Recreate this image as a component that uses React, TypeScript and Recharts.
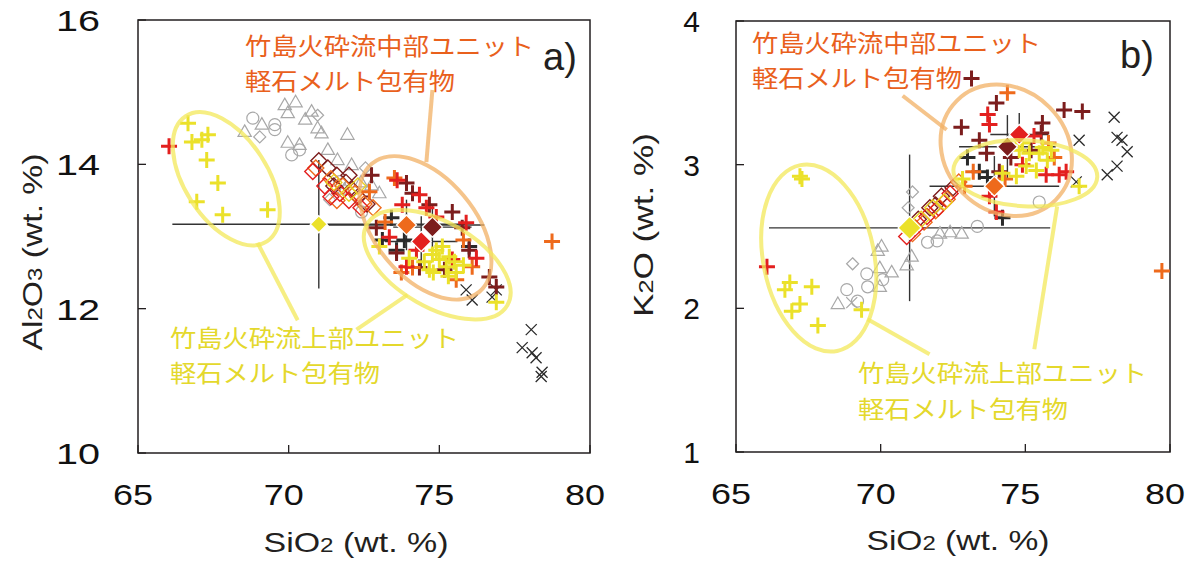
import React from 'react';
import { ScatterChart, Scatter, XAxis, YAxis, ErrorBar, ReferenceArea, ReferenceLine } from 'recharts';

type P = [number, number];

// ---------- colours ----------
const C_YELLOW = '#ebe12a';
const C_RED = '#e3201f';
const C_ORANGE = '#ee6a1c';
const C_DARKRED = '#7c1d1d';
const C_BLACK = '#2a2a2a';
const C_GRAY = '#a8a8a8';
const C_RING_YELLOW = '#f3e85a';
const C_RING_ORANGE = '#f2b064';
const C_TEXT_ORANGE = '#e9601c';
const C_TEXT_YELLOW = '#e4d82c';

// ---------- axis ticks ----------
const siO2Ticks = [65, 70, 75, 80];
const al2O3Ticks = [10, 12, 14, 16];
const k2OTicks = [1, 2, 3, 4];

// ---------- panel a: SiO2 vs Al2O3 ----------
const aGrayTriangles: P[] = [
  [68.54, 14.45], [69.87, 14.82], [69.97, 14.71], [70.76, 14.73], [71.09, 14.43], [69.97, 14.3],
  [70.36, 14.27], [71.95, 14.41], [71.62, 14.06], [72.09, 13.99], [72.75, 13.71], [73.01, 13.6],
  [71.85, 13.65], [70.23, 14.86], [70.96, 14.5], [69.11, 14.55], [70.55, 14.62], [71.3, 14.2], [72.4, 13.75],
];
const aGrayCircles: P[] = [
  [68.81, 14.64], [69.54, 14.55], [69.54, 14.48], [70.1, 14.13], [70.36, 14.2], [71.69, 13.76], [72.42, 13.34],
];
const aGrayDiamonds: P[] = [[69.04, 14.38], [70.96, 14.68], [72.55, 13.95], [71.36, 13.51]];
const aBlackX: P[] = [
  [78.05, 11.71], [77.75, 11.46], [78.08, 11.39], [78.21, 11.32], [78.41, 11.12], [78.38, 11.06],
  [75.89, 12.26], [76.09, 12.12], [76.89, 12.26], [76.75, 12.16],
];
const aGlassDarkRed: P[] = [
  [71.0, 14.05], [71.3, 13.95], [71.6, 13.85], [71.9, 13.75], [72.1, 13.65], [72.3, 13.55], [71.5, 13.7], [72.0, 13.85], [72.6, 13.45],
];
const aGlassRed: P[] = [[70.8, 13.9], [71.2, 13.7], [71.7, 13.6], [72.0, 13.5], [72.4, 13.4], [71.4, 13.55]];
const aGlassOrange: P[] = [[70.9, 13.95], [71.4, 13.8], [71.8, 13.7], [72.2, 13.6], [72.5, 13.45], [71.6, 13.5], [72.8, 13.4]];
const aGlassYellow: P[] = [[71.5, 13.75], [72.0, 13.6], [72.3, 13.7]];
const aMiUpper: P[] = [
  [66.66, 14.57], [66.79, 14.31], [67.12, 14.34], [67.32, 14.41], [67.28, 14.06], [67.65, 13.74], [66.95, 13.48],
  [67.81, 13.3], [69.3, 13.37],
  [73.01, 12.86], [74.77, 12.75], [75.0, 12.68], [75.33, 12.72], [74.67, 12.54], [75.23, 12.58], [75.56, 12.5],
  [74.9, 12.81], [75.1, 12.86], [76.89, 12.09], [75.5, 12.65], [74.5, 12.65], [74.0, 12.7], [75.8, 12.6], [75.3, 12.45], [74.8, 12.5],
];
const aMiRed: P[] = [
  [73.77, 13.44], [74.57, 13.4], [75.89, 13.19], [76.23, 12.7], [73.91, 12.58], [74.24, 12.81], [75.43, 12.68],
  [74.9, 13.27], [73.34, 12.99], [66.03, 14.25], [73.6, 13.78], [74.34, 13.58],
];
const aMiOrange: P[] = [
  [73.51, 13.81], [72.68, 13.62], [73.74, 12.5], [74.11, 12.57], [75.56, 12.4], [76.09, 12.58], [78.74, 12.93], [73.2, 13.2], [75.8, 12.95],
];
const aMiDarkRed: P[] = [
  [73.91, 13.74], [74.11, 13.6], [74.67, 13.44], [75.43, 13.34], [72.91, 13.12], [73.58, 12.77], [74.34, 12.57],
  [76.66, 12.44], [75.76, 13.12], [75.99, 12.81], [75.17, 12.54], [76.89, 12.3], [72.75, 13.85],
];
const aMiBlack: P[] = [[73.41, 13.26], [73.58, 12.81], [75.99, 12.86], [73.84, 12.95], [73.11, 12.95]];

// group means (orange, red, dark red, yellow) with 1 sd
const meanColors = [C_ORANGE, C_RED, C_DARKRED, C_YELLOW];
const aMeanSiO2 = [73.91, 74.4, 74.77, 71.0];
const aMeanAl2O3 = [13.16, 12.93, 13.13, 13.17];
const aSdSiO2 = [2.58, 1.2, 1.3, 4.86];
const aSdAl2O3 = [0.35, 0.35, 0.3, 0.89];

// outline ellipses: [SiO2, Al2O3] centres
const aRingUpperLeft: P = [67.93, 13.8];
const aRingUpperRight: P = [74.93, 12.61];
const aRingMiddle: P = [74.54, 13.12];
const aLeaderUpperLeft: P[] = [[68.97, 12.91], [70.3, 11.84]];
const aLeaderUpperRight: P[] = [[73.94, 12.19], [72.25, 11.71]];
const aLeaderMiddle: P[] = [[74.57, 14.03], [74.77, 15.03]];

// ---------- panel b: SiO2 vs K2O ----------
const bGrayTriangles: P[] = [
  [70.03, 2.43], [69.97, 2.28], [70.38, 2.25], [69.97, 2.15], [68.52, 2.03], [69.9, 2.4], [71.07, 2.36],
  [72.05, 2.52], [72.4, 2.53], [72.8, 2.52], [70.9, 2.3],
];
const bGrayCircles: P[] = [
  [69.52, 2.24], [68.83, 2.13], [69.55, 2.15], [70.07, 2.2], [71.62, 2.46], [71.95, 2.47], [73.34, 2.57], [75.48, 2.74], [69.2, 2.05],
];
const bGrayDiamonds: P[] = [[69.03, 2.31], [71.1, 2.81], [70.95, 2.7]];
const bGrayX: P[] = [[69.0, 2.04]];
const bBlackX: P[] = [
  [78.07, 3.33], [78.17, 3.19], [78.34, 3.17], [78.52, 3.09], [78.17, 2.99], [77.83, 2.93], [76.86, 3.17], [76.76, 2.88],
];
const bGlassDarkRed: P[] = [[71.3, 2.62], [71.7, 2.7], [72.1, 2.78], [72.5, 2.84], [71.9, 2.72]];
const bGlassRed: P[] = [[70.9, 2.5], [71.2, 2.56], [71.6, 2.64], [72.0, 2.7], [72.4, 2.8]];
const bGlassOrange: P[] = [[71.1, 2.52], [71.5, 2.6], [71.9, 2.68], [72.3, 2.76], [72.7, 2.88]];
const bGlassYellow: P[] = [[71.4, 2.62], [71.8, 2.7], [72.2, 2.74]];
const bMiUpper: P[] = [
  [67.28, 2.9], [67.21, 2.92], [66.86, 2.18], [66.69, 2.13], [67.62, 2.15], [67.21, 2.03], [66.93, 1.98], [67.83, 1.88], [69.34, 1.99],
  [74.79, 3.1], [75.14, 3.08], [75.48, 3.08], [75.76, 3.03], [75.03, 2.99], [75.38, 2.96], [74.21, 2.94], [74.69, 2.92],
  [72.83, 2.9], [76.86, 2.85], [75.6, 3.12], [74.9, 3.15], [75.9, 3.1],
];
const bMiRed: P[] = [
  [66.07, 2.29], [73.76, 3.28], [75.72, 2.93], [76.17, 2.93], [76.41, 2.95], [73.76, 2.78], [74.0, 2.67], [74.9, 3.0], [75.3, 3.2], [73.7, 3.35],
];
const bMiOrange: P[] = [[74.38, 3.5], [73.2, 2.95], [75.8, 3.15], [74.3, 2.9], [76.0, 3.05], [72.9, 2.85], [79.72, 2.26]];
const bMiDarkRed: P[] = [
  [73.14, 3.6], [74.0, 3.43], [72.79, 3.26], [75.59, 3.29], [76.34, 3.38], [76.97, 3.37], [73.41, 3.17], [75.55, 3.22],
  [73.66, 3.08], [74.5, 3.05], [75.2, 3.1], [74.1, 2.95],
];
const bMiBlack: P[] = [[73.41, 2.95], [73.69, 2.91], [74.21, 2.63], [73.0, 3.05]];

const bMeanSiO2 = [73.93, 74.79, 74.38, 71.0];
const bMeanK2O = [2.85, 3.21, 3.125, 2.56];
const bSdSiO2 = [2.24, 1.0, 1.67, 4.86];
const bSdK2O = [0.21, 0.15, 0.22, 0.51];

const bRingUpperLeft: P = [67.86, 2.35];
const bRingUpperRight: P = [75.0, 2.94];
const bRingMiddle: P = [74.34, 3.1];
const bLeaderUpperLeft: P[] = [[69.55, 1.924], [71.69, 1.68]];
const bLeaderUpperRight: P[] = [[76.1, 2.71], [75.31, 1.715]];
const bLeaderMiddle: P[] = [[72.28, 3.243], [70.76, 3.48]];

// ---------- labels ----------
const middleUnitLabel = '竹島火砕流中部ユニット';
const upperUnitLabel = '竹島火砕流上部ユニット';
const inclusionLabel = '軽石メルト包有物';

// ---------- helpers ----------
const pts = (arr: P[]) => arr.map(([x, y]) => ({ x, y }));

const plus = (color: string, r = 8, w = 3) => (p: any) =>
  p.cx == null ? <g /> : (
    <path d={`M${p.cx - r} ${p.cy}H${p.cx + r}M${p.cx} ${p.cy - r}V${p.cy + r}`} stroke={color} strokeWidth={w} fill="none" />
  );
const cross = (color: string, r = 5.5, w = 1.3) => (p: any) =>
  p.cx == null ? <g /> : (
    <path
      d={`M${p.cx - r} ${p.cy - r}L${p.cx + r} ${p.cy + r}M${p.cx - r} ${p.cy + r}L${p.cx + r} ${p.cy - r}`}
      stroke={color} strokeWidth={w} fill="none"
    />
  );
const triangle = (color: string, r = 7) => (p: any) =>
  p.cx == null ? <g /> : (
    <path
      d={`M${p.cx} ${p.cy - r}L${p.cx + r * 0.95} ${p.cy + r * 0.65}L${p.cx - r * 0.95} ${p.cy + r * 0.65}Z`}
      stroke={color} strokeWidth={1.2} fill="none"
    />
  );
const circle = (color: string, r = 6) => (p: any) =>
  p.cx == null ? <g /> : <circle cx={p.cx} cy={p.cy} r={r} stroke={color} strokeWidth={1.2} fill="none" />;
const diamond = (stroke: string, fill: string, r = 7, w = 1.4) => (p: any) =>
  p.cx == null ? <g /> : (
    <path d={`M${p.cx} ${p.cy - r}L${p.cx + r} ${p.cy}L${p.cx} ${p.cy + r}L${p.cx - r} ${p.cy}Z`} stroke={stroke} strokeWidth={w} fill={fill} />
  );
const ring = (color: string, rx: number, ry: number, angle: number, op = 0.75) => (p: any) =>
  p.cx == null ? <g /> : (
    <ellipse
      cx={p.cx} cy={p.cy} rx={rx} ry={ry} transform={`rotate(${angle} ${p.cx} ${p.cy})`}
      fill="none" stroke={color} strokeWidth={4} strokeOpacity={op}
    />
  );
const noMark = () => <g />;

const LATIN = "'Liberation Sans', Arial, Helvetica, sans-serif";
const CJK = "'Noto Sans CJK JP', 'Noto Sans CJK SC', sans-serif";

const makeXTick = (p: any) => {
  const { x, y, payload } = p;
  return (
    <g>
      <line x1={x} x2={x} y1={y} y2={y - 8} stroke="#231f20" strokeWidth={1.3} />
      <text x={x - 5} y={y + 52} textAnchor="middle" fontSize={30} fill="#111" fontFamily={LATIN} textLength={40} lengthAdjust="spacingAndGlyphs">
        {payload.value}
      </text>
    </g>
  );
};
const makeYTick = (offset: number, wide: boolean) => (p: any) => {
  const { x, y, payload } = p;
  const extra = wide ? { textLength: 44, lengthAdjust: 'spacingAndGlyphs' } : {};
  return (
    <g>
      <line x1={x} x2={x + 8} y1={y} y2={y} stroke="#231f20" strokeWidth={1.3} />
      <text x={x - offset} y={y + 11} textAnchor="end" fontSize={30} fill="#111" fontFamily={LATIN} {...(extra as any)}>
        {payload.value}
      </text>
    </g>
  );
};

const seg = (a: P[]) => a.map(([x, y]) => ({ x, y }));

function means(xs: number[], ys: number[], sx: number[], sy: number[]) {
  return xs.map((x, i) => ({ x, y: ys[i], ex: sx[i], ey: sy[i] }));
}

type PanelProps = {
  yDomain: [number, number];
  yTicks: number[];
  yAxisWidth: number;
  rightMargin: number;
  top: number;
  xAxisHeight: number;
  yTickOffset: number;
  wideY: boolean;
  gray: { tri: P[]; circ: P[]; dia: P[]; x: P[] };
  blackX: P[];
  glass: { darkred: P[]; red: P[]; orange: P[]; yellow: P[] };
  mi: { black: P[]; darkred: P[]; orange: P[]; red: P[]; upper: P[] };
  meanData: { x: number; y: number; ex: number; ey: number }[];
  meanSizes: number[];
  rings: { c: P; color: string; rx: number; ry: number; angle: number }[];
  leaders: { s: P[]; color: string }[];
  width: number;
};

function Panel(props: PanelProps) {
  const { yDomain } = props;
  return (
    <ScatterChart
      width={props.width}
      height={563}
      margin={{ top: props.top, right: props.rightMargin, bottom: 0, left: 0 }}
      style={{ overflow: 'visible' }}
    >
      <XAxis
        type="number" dataKey="x" domain={[65, 80]} ticks={siO2Ticks} interval={0} height={props.xAxisHeight}
        tickSize={0} tickMargin={0} axisLine={false} tickLine={false} tick={makeXTick} allowDataOverflow
      />
      <YAxis
        type="number" dataKey="y" domain={yDomain} ticks={props.yTicks} interval={0} width={props.yAxisWidth}
        tickSize={0} tickMargin={0} axisLine={false} tickLine={false} tick={makeYTick(props.yTickOffset, props.wideY)} allowDataOverflow
      />
      <ReferenceArea x1={65} x2={80} y1={yDomain[0]} y2={yDomain[1]} fill="none" fillOpacity={0} stroke="#231f20" strokeWidth={1.5} ifOverflow="visible" />

      {/* standard deviation bars behind everything */}
      <Scatter data={props.meanData} shape={noMark} isAnimationActive={false}>
        <ErrorBar dataKey="ex" direction="x" width={0} stroke="#333" strokeWidth={1.4} isAnimationActive={false} />
        <ErrorBar dataKey="ey" direction="y" width={0} stroke="#333" strokeWidth={1.4} isAnimationActive={false} />
      </Scatter>

      <Scatter data={pts(props.gray.tri)} shape={triangle(C_GRAY)} isAnimationActive={false} />
      <Scatter data={pts(props.gray.circ)} shape={circle(C_GRAY)} isAnimationActive={false} />
      <Scatter data={pts(props.gray.dia)} shape={diamond(C_GRAY, 'none', 6, 1.2)} isAnimationActive={false} />
      <Scatter data={pts(props.gray.x)} shape={cross(C_GRAY)} isAnimationActive={false} />
      <Scatter data={pts(props.blackX)} shape={cross(C_BLACK)} isAnimationActive={false} />

      <Scatter data={pts(props.glass.darkred)} shape={diamond(C_DARKRED, 'none', 8)} isAnimationActive={false} />
      <Scatter data={pts(props.glass.orange)} shape={diamond(C_ORANGE, 'none', 8)} isAnimationActive={false} />
      <Scatter data={pts(props.glass.red)} shape={diamond(C_RED, 'none', 8)} isAnimationActive={false} />
      <Scatter data={pts(props.glass.yellow)} shape={diamond('#e8d020', 'none', 8)} isAnimationActive={false} />

      <Scatter data={pts(props.mi.black)} shape={plus(C_BLACK)} isAnimationActive={false} />
      <Scatter data={pts(props.mi.darkred)} shape={plus(C_DARKRED)} isAnimationActive={false} />
      <Scatter data={pts(props.mi.orange)} shape={plus(C_ORANGE)} isAnimationActive={false} />
      <Scatter data={pts(props.mi.red)} shape={plus(C_RED)} isAnimationActive={false} />
      <Scatter data={pts(props.mi.upper)} shape={plus(C_YELLOW)} isAnimationActive={false} />

      {props.meanData.map((m, i) => (
        <Scatter
          key={`mean-${i}`}
          data={[{ x: m.x, y: m.y }]}
          shape={diamond('#ffffff', meanColors[i], props.meanSizes[i], 1.3)}
          isAnimationActive={false}
        />
      ))}

      {props.rings.map((r, i) => (
        <Scatter key={`ring-${i}`} data={[{ x: r.c[0], y: r.c[1] }]} shape={ring(r.color, r.rx, r.ry, r.angle)} isAnimationActive={false} />
      ))}
      {props.leaders.map((l, i) => (
        <ReferenceLine key={`lead-${i}`} segment={seg(l.s)} stroke={l.color} strokeOpacity={0.75} strokeWidth={4} ifOverflow="visible" />
      ))}
    </ScatterChart>
  );
}

const sub = (t: string) => <tspan fontSize={20}>{t}</tspan>;

// two-line unit caption drawn as one text block
function UnitCaption(props: { x: number; y: number; gap: number; color: string; first: string }) {
  return (
    <text fill={props.color}>
      <tspan x={props.x} y={props.y} textLength={289} lengthAdjust="spacingAndGlyphs">{props.first}</tspan>
      <tspan x={props.x} y={props.y + props.gap} textLength={210} lengthAdjust="spacingAndGlyphs">{inclusionLabel}</tspan>
    </text>
  );
}

export default function App() {
  return (
    <div style={{ position: 'absolute', left: 0, top: 0, width: 1193, height: 563, background: '#fff', overflow: 'hidden' }}>
      <div style={{ position: 'absolute', left: 0, top: 0 }}>
        <Panel
          width={625}
          yDomain={[10, 16]}
          yTicks={al2O3Ticks}
          yAxisWidth={138}
          rightMargin={35}
          top={20}
          xAxisHeight={110}
          yTickOffset={38}
          wideY
          gray={{ tri: aGrayTriangles, circ: aGrayCircles, dia: aGrayDiamonds, x: [] }}
          blackX={aBlackX}
          glass={{ darkred: aGlassDarkRed, red: aGlassRed, orange: aGlassOrange, yellow: aGlassYellow }}
          mi={{ black: aMiBlack, darkred: aMiDarkRed, orange: aMiOrange, red: aMiRed, upper: aMiUpper }}
          meanData={means(aMeanSiO2, aMeanAl2O3, aSdSiO2, aSdAl2O3)}
          meanSizes={[10, 10, 10, 8.5]}
          rings={[
            { c: aRingUpperLeft, color: C_RING_YELLOW, rx: 74.6, ry: 41.4, angle: 57 },
            { c: aRingMiddle, color: C_RING_ORANGE, rx: 83.6, ry: 49.9, angle: 50 },
            { c: aRingUpperRight, color: C_RING_YELLOW, rx: 81, ry: 42.5, angle: 30 },
          ]}
          leaders={[
            { s: aLeaderUpperLeft, color: C_RING_YELLOW },
            { s: aLeaderUpperRight, color: C_RING_YELLOW },
            { s: aLeaderMiddle, color: C_RING_ORANGE },
          ]}
        />
      </div>
      <div style={{ position: 'absolute', left: 600, top: 0 }}>
        <Panel
          width={593}
          yDomain={[1, 4]}
          yTicks={k2OTicks}
          yAxisWidth={136}
          rightMargin={23}
          top={21}
          xAxisHeight={111}
          yTickOffset={36}
          wideY={false}
          gray={{ tri: bGrayTriangles, circ: bGrayCircles, dia: bGrayDiamonds, x: bGrayX }}
          blackX={bBlackX}
          glass={{ darkred: bGlassDarkRed, red: bGlassRed, orange: bGlassOrange, yellow: bGlassYellow }}
          mi={{ black: bMiBlack, darkred: bMiDarkRed, orange: bMiOrange, red: bMiRed, upper: bMiUpper }}
          meanData={means(bMeanSiO2, bMeanK2O, bSdSiO2, bSdK2O)}
          meanSizes={[10, 10, 10, 11.5]}
          rings={[
            { c: bRingUpperLeft, color: C_RING_YELLOW, rx: 94.7, ry: 55.5, angle: 78.8 },
            { c: bRingMiddle, color: C_RING_ORANGE, rx: 70, ry: 61, angle: 45 },
            { c: bRingUpperRight, color: C_RING_YELLOW, rx: 72, ry: 33, angle: 3 },
          ]}
          leaders={[
            { s: bLeaderUpperLeft, color: C_RING_YELLOW },
            { s: bLeaderUpperRight, color: C_RING_YELLOW },
            { s: bLeaderMiddle, color: C_RING_ORANGE },
          ]}
        />
      </div>

      <svg width={1193} height={563} style={{ position: 'absolute', left: 0, top: 0, pointerEvents: 'none' }}>
        {/* axis titles */}
        <g fontFamily={LATIN} fontSize={28} fill="#231f20">
          <text x={356} y={552} textAnchor="middle" textLength={185} lengthAdjust="spacingAndGlyphs">
            SiO{sub('2')} (wt. %)
          </text>
          <text x={958} y={550} textAnchor="middle" textLength={183} lengthAdjust="spacingAndGlyphs">
            SiO{sub('2')} (wt. %)
          </text>
          <text transform="translate(42 252) rotate(-90)" textAnchor="middle" textLength={197} lengthAdjust="spacingAndGlyphs">
            Al{sub('2')}O{sub('3')} (wt. %)
          </text>
          <text transform="translate(653 225) rotate(-90)" textAnchor="middle" textLength={184} lengthAdjust="spacingAndGlyphs">
            K{sub('2')}O (wt. %)
          </text>
          <text x={543} y={70} fontSize={38}>a)</text>
          <text x={1120} y={68} fontSize={38}>b)</text>
        </g>
        {/* unit captions */}
        <g fontFamily={CJK} fontSize={24}>
          <UnitCaption x={245} y={55} gap={35} color={C_TEXT_ORANGE} first={middleUnitLabel} />
          <UnitCaption x={170} y={347} gap={35} color={C_TEXT_YELLOW} first={upperUnitLabel} />
          <UnitCaption x={752} y={52} gap={35} color={C_TEXT_ORANGE} first={middleUnitLabel} />
          <UnitCaption x={858} y={382} gap={36} color={C_TEXT_YELLOW} first={upperUnitLabel} />
        </g>
      </svg>
    </div>
  );
}
